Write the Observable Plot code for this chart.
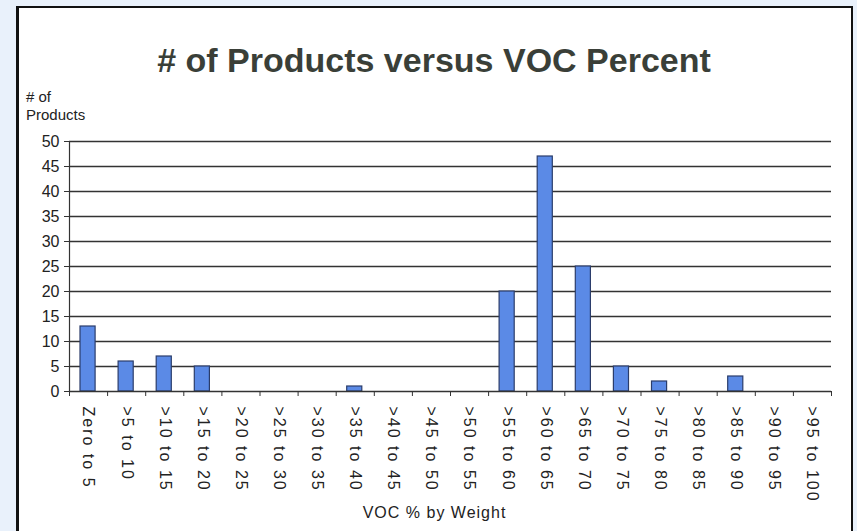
<!DOCTYPE html>
<html>
<head>
<meta charset="utf-8">
<script src="https://cdn.jsdelivr.net/npm/d3@7"></script>
<script src="https://cdn.jsdelivr.net/npm/@observablehq/plot@0.6"></script>
<style>
  html, body { margin: 0; padding: 0; }
  body { width: 857px; height: 531px; background: #e9f1fb; position: relative; overflow: hidden; font-family: "Liberation Sans", Arial, sans-serif; }
  #panel { position: absolute; left: 16px; top: 6px; width: 837px; height: 540px; background: #fff; border: 2px solid #111; border-left-width: 3px; box-sizing: border-box; }
  #title { position: absolute; left: 0; width: 868px; top: 40px; text-align: center; font-size: 34px; font-weight: bold; color: #3a3f38; line-height: 40px; }
  #ylabel { position: absolute; left: 26px; top: 88px; font-size: 15px; line-height: 18px; color: #222; }
  #chart { position: absolute; left: 0; top: 120px; }
  .xlab text { letter-spacing: 2px; }
  .xtitle text { letter-spacing: 1px; }
</style>
</head>
<body>
<div id="panel"></div>
<div id="title"># of Products versus VOC Percent</div>
<div id="ylabel"># of<br>Products</div>
<div id="chart"></div>
<script>
const categories = ["Zero to 5", ">5 to 10", ">10 to 15", ">15 to 20", ">20 to 25", ">25 to 30", ">30 to 35", ">35 to 40", ">40 to 45", ">45 to 50", ">50 to 55", ">55 to 60", ">60 to 65", ">65 to 70", ">70 to 75", ">75 to 80", ">80 to 85", ">85 to 90", ">90 to 95", ">95 to 100"];
const counts = [13, 6, 7, 5, 0, 0, 0, 1, 0, 0, 0, 20, 47, 25, 5, 2, 0, 3, 0, 0];
const yTicks = [0, 5, 10, 15, 20, 25, 30, 35, 40, 45, 50];
const xLabel = "VOC % by Weight";

const data = categories.map((c, i) => ({i, category: c, count: counts[i]}));
const n = categories.length;
const nonZero = data.filter(d => d.count > 0);

const plot = Plot.plot({
  width: 857,
  height: 411,
  marginLeft: 69,
  marginRight: 26,
  marginTop: 21,
  marginBottom: 140,
  style: {fontFamily: "'Liberation Sans', Arial, sans-serif", fontSize: "16px", color: "#222", background: "transparent", overflow: "visible"},
  x: {domain: [0, n], axis: null},
  y: {domain: [0, 50], axis: null},
  marks: [
    Plot.gridY(yTicks.filter(t => t > 0), {stroke: "#333", strokeOpacity: 1, strokeWidth: 1.5}),
    Plot.rectY(nonZero, {x1: "i", x2: d => d.i + 1, y: "count", insetLeft: 11, insetRight: 12, fill: "#5b8ae6", stroke: "#2b3d6b", strokeWidth: 1.2}),
    Plot.axisY({ticks: yTicks, tickSize: 5, tickPadding: 5, stroke: "#333", fontSize: 16, label: null}),
    Plot.ruleX([0], {stroke: "#333", strokeWidth: 1.2}),
    Plot.ruleY([0], {stroke: "#333", strokeWidth: 1.5}),
    Plot.axisX({ticks: d3.range(n + 1), tickSize: 5, tickFormat: () => "", stroke: "#333", label: null}),
    Plot.axisX({ticks: d3.range(n).map(i => i + 0.5), tickSize: 0, tickPadding: 15, tickRotate: 90, textAnchor: "start", tickFormat: v => categories[Math.floor(v)], fontSize: 16, label: null, className: "xlab"}),
    Plot.text([xLabel], {frameAnchor: "bottom", dx: -16, dy: 126, fontSize: 16, fill: "#222", className: "xtitle"})
  ]
});
document.getElementById("chart").appendChild(plot);
</script>
</body>
</html>
